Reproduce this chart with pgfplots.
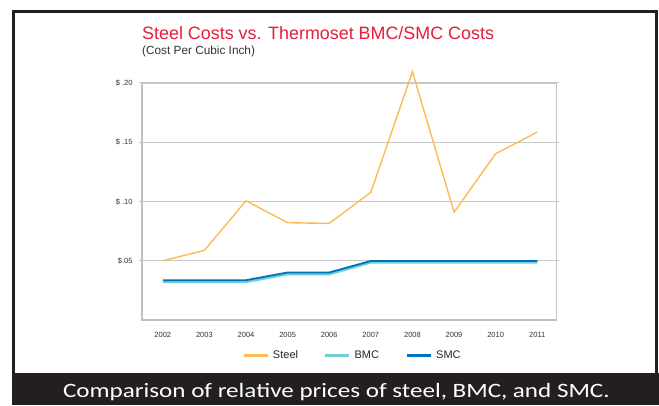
\documentclass[border=0pt]{standalone}
\usepackage{pgfplots}
\pgfplotsset{compat=1.18}
\usepackage{fontspec}
\setmainfont{Liberation Sans}
\newfontfamily\capfont{Carlito}
\definecolor{steelc}{RGB}{252,187,84}
\definecolor{bmcc}{RGB}{110,205,215}
\definecolor{smcc}{RGB}{0,114,188}
\definecolor{titlered}{RGB}{228,30,60}
\definecolor{boxdark}{RGB}{35,31,32}
\definecolor{gridgray}{RGB}{200,200,200}

\begin{document}
\begin{tikzpicture}
% page and frame
\fill[white] (0pt,0pt) rectangle (659pt,405pt);
\fill[boxdark] (12pt,0pt) rectangle (659pt,32.5pt);
\draw[boxdark, line width=2.5pt] (13.5pt,32.5pt) -- (13.5pt,393.5pt) -- (656.5pt,393.5pt) -- (656.5pt,32.5pt);
\node[anchor=base, text=white, inner sep=0pt, xscale=1.23, font=\capfont\fontsize{20.4}{24}\selectfont]
  at (336.4pt,7.7pt) {Comparison of relative prices of steel, BMC, and SMC.};

% titles
\node[anchor=base west, inner sep=0pt, text=titlered, font=\fontsize{17.9}{20}\selectfont]
  at (142pt,365.7pt) {Steel Costs vs. Thermoset BMC/SMC Costs};
\node[anchor=base west, inner sep=0pt, text=black!80, font=\fontsize{11.8}{14}\selectfont]
  at (142pt,350pt) {(Cost Per Cubic Inch)};

\begin{axis}[
    at={(142pt,85pt)}, anchor=south west,
    scale only axis,
    width=414pt, height=237pt,
    xmin=2001.5, xmax=2011.45,
    ymin=0, ymax=0.2,
    clip=false,
    axis line style={draw=black!22, line width=0.8pt},
    ymajorgrids,
    grid style={gridgray, line width=1.1pt},
    xtick={2002,...,2011},
    xticklabels={2002,2003,2004,2005,2006,2007,2008,2009,2010,2011},
    ytick={0.05,0.1,0.15,0.2},
    yticklabels={{\$.05},{\$ .10},{\$ .15},{\$ .20}},
    xtick style={draw=none},
    ytick style={draw=black!22, line width=1pt},
    tick align=outside,
    major tick length=3pt,
    ticklabel style={font=\fontsize{7.5}{9}\selectfont, text=black!80},
    xticklabel style={yshift=-6pt},
    yticklabel style={xshift=-3pt},
    legend columns=3,
    legend style={at={(0.242,-0.149)}, anchor=west, draw=none, fill=none,
      inner sep=0pt, font=\fontsize{11}{13}\selectfont,
      /tikz/every odd column/.append style={column sep=1.6pt},
      /tikz/every even column/.append style={column sep=4pt},
      nodes={text width=45pt, text=black!85}},
    legend image code/.code={\draw[#1, line width=3pt] (0pt,0pt) -- (24pt,0pt);},
  ]
  \addplot[steelc, line width=1.4pt] coordinates {
    (2002,0.0500) (2003,0.0588) (2004,0.1006) (2005,0.0821) (2006,0.0815)
    (2007,0.1078) (2008,0.2095) (2009,0.0910) (2010,0.1403) (2011,0.1586)
  };
  \addlegendentry{Steel}
  \addplot[bmcc, line width=2.6pt] coordinates {
    (2002,0.0322) (2003,0.0322) (2004,0.0322) (2005,0.0388) (2006,0.0388)
    (2007,0.0487) (2008,0.0487) (2009,0.0487) (2010,0.0487) (2011,0.0487)
  };
  \addlegendentry{BMC}
  \addplot[smcc, line width=1.8pt] coordinates {
    (2002,0.0336) (2003,0.0336) (2004,0.0336) (2005,0.0401) (2006,0.0401)
    (2007,0.0498) (2008,0.0498) (2009,0.0498) (2010,0.0498) (2011,0.0498)
  };
  \addlegendentry{SMC}
  \draw[black!25, line width=2.5pt] (rel axis cs:0,1) -- (rel axis cs:0,0) -- (rel axis cs:1,0);
\end{axis}
\end{tikzpicture}
\end{document}
